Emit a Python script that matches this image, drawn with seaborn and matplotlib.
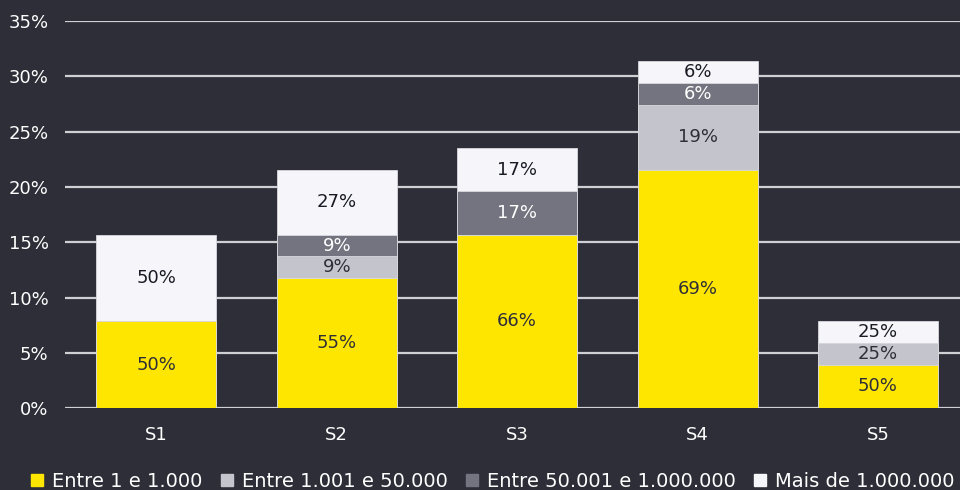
import numpy as np
import pandas as pd
import matplotlib
matplotlib.use("Agg")
import matplotlib.pyplot as plt
from matplotlib.lines import Line2D
import seaborn as sns

# Share of respondents per segment (% of all), stacked by size band
categories = ["S1", "S2", "S3", "S4", "S5"]
series_names = ["Entre 1 e 1.000", "Entre 1.001 e 50.000",
                "Entre 50.001 e 1.000.000", "Mais de 1.000.000"]
band_small = [7.84, 11.76, 15.69, 21.57, 3.92]
band_mid = [0.0, 1.96, 0.0, 5.88, 1.96]
band_large = [0.0, 1.96, 3.92, 1.96, 0.0]
band_top = [7.84, 5.88, 3.92, 1.96, 1.96]

# Labels: share of each band inside its bar
labels_small = ["50%", "55%", "66%", "69%", "50%"]
labels_mid = ["", "9%", "", "19%", "25%"]
labels_large = ["", "9%", "17%", "6%", ""]
labels_top = ["50%", "27%", "17%", "6%", "25%"]

y_ticks = [0, 5, 10, 15, 20, 25, 30, 35]

BG = "#2E2E38"
colors = ["#FFE600", "#C4C4CD", "#747480", "#F6F6FA"]
text_colors = ["#2E2E38", "#2E2E38", "#FFFFFF", "#1A1A24"]

sns.set_theme(style="white")
plt.rcParams["font.family"] = ["DejaVu Sans"]

layers = [band_small, band_mid, band_large, band_top]
labels = [labels_small, labels_mid, labels_large, labels_top]
cum = np.cumsum(np.array(layers), axis=0)

fig = plt.figure(figsize=(9.6, 4.9), dpi=100, facecolor=BG)
ax = fig.add_axes([0.068, 0.167, 0.932, 0.79])
ax.set_facecolor(BG)

# Grid drawn below bars
for t in y_ticks:
    ax.axhline(t, color="#CFCFD4", lw=1.6, zorder=0)

# Stacked bars: draw cumulative heights from the top band down
for k in range(len(layers) - 1, -1, -1):
    df = pd.DataFrame({"cat": categories, "val": cum[k]})
    sns.barplot(data=df, x="cat", y="val", color=colors[k], width=0.665,
                saturation=1, ax=ax, zorder=2 + (3 - k),
                edgecolor="#D8D8DE", linewidth=0.6)

# Segment labels
for k in range(len(layers)):
    for i, cat in enumerate(categories):
        h = layers[k][i]
        if h <= 0 or not labels[k][i]:
            continue
        bottom = cum[k][i] - h
        ax.text(i, bottom + h / 2, labels[k][i], ha="center", va="center",
                color=text_colors[k], fontsize=13, zorder=10)

ax.set_ylim(0, 35)
ax.set_xlim(-0.505, 4.455)
ax.set_yticks(y_ticks)
ax.set_yticklabels([f"{t}%" for t in y_ticks])
ax.set_xlabel("")
ax.set_ylabel("")
ax.tick_params(axis="both", colors="white", labelsize=13, length=0)
ax.tick_params(axis="y", pad=12)
ax.tick_params(axis="x", pad=13)
for s in ax.spines.values():
    s.set_visible(False)

handles = [Line2D([0], [0], marker="s", linestyle="", markersize=8.6,
                  markerfacecolor=c, markeredgecolor=c) for c in colors]
leg = fig.legend(handles, series_names, loc="lower left", ncol=4,
                 bbox_to_anchor=(0.012, -0.038), frameon=False,
                 fontsize=14.0, labelcolor="white", handletextpad=0.35,
                 columnspacing=0.82, handlelength=0.85)

fig.savefig("out.png", dpi=100, facecolor=BG)
